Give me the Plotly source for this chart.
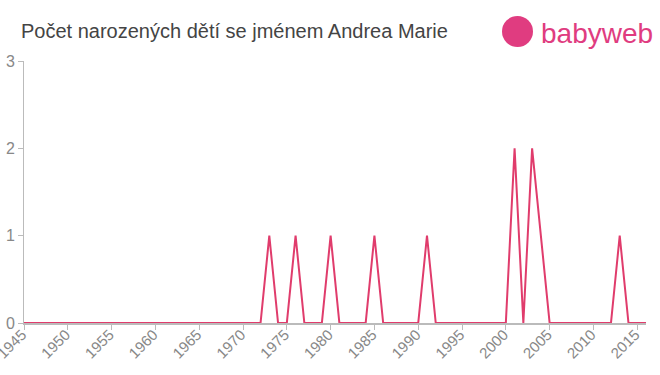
import plotly.graph_objects as go

years = list(range(1945, 2017))
nonzero = {1973: 1, 1976: 1, 1980: 1, 1985: 1, 1991: 1, 2001: 2, 2003: 2, 2004: 1, 2013: 1}
counts = [nonzero.get(y, 0) for y in years]

title_text = "Počet narozených dětí se jménem Andrea Marie"
x_ticks = list(range(1945, 2016, 5))
y_ticks = [0, 1, 2, 3]

line_color = "#e03c6c"
axis_color = "#bbbbbb"
label_color = "#888888"

L, R, T, B = 24, 646, 61, 323
W, H = R - L, B - T


def px(x):
    return (x - L) / W


def py(y):
    return (B - y) / H


fig = go.Figure()
fig.add_trace(go.Scatter(x=years, y=counts, mode="lines",
                         line=dict(color=line_color, width=2), hoverinfo="skip"))

fig.update_layout(
    width=660, height=375,
    margin=dict(l=L, r=660 - R, t=T, b=375 - B),
    paper_bgcolor="white", plot_bgcolor="white",
    showlegend=False,
    font=dict(family="Liberation Sans, Arial, sans-serif", color=label_color),
    xaxis=dict(range=[1945, 2016], tickmode="array", tickvals=x_ticks,
               ticktext=[str(v) for v in x_ticks], tickangle=-45, automargin=False,
               ticklabeloverflow="allow", ticklabelstandoff=-10, ticklabelshift=-2,
               showgrid=False, zeroline=False, showline=True, linecolor=axis_color,
               linewidth=2, ticks="outside", ticklen=5, tickcolor=axis_color,
               tickfont=dict(size=15, color=label_color)),
    yaxis=dict(range=[0, 3], tickmode="array", tickvals=y_ticks, automargin=False,
               showgrid=False, zeroline=False, showline=True, linecolor=axis_color,
               linewidth=1, ticks="outside", ticklen=5, tickcolor=axis_color,
               tickfont=dict(size=16, color=label_color)),
)

fig.add_annotation(text=title_text, xref="paper", yref="paper",
                   x=px(19), y=py(31), xanchor="left", yanchor="middle",
                   showarrow=False, font=dict(size=20, color="#444444"))

# logo
fig.add_shape(type="circle", xref="paper", yref="paper",
              x0=px(502), x1=px(533), y0=py(47), y1=py(16),
              fillcolor="#e03c80", line=dict(width=0))
fig.add_annotation(text="babyweb", xref="paper", yref="paper",
                   x=px(539), y=py(33), xanchor="left", yanchor="middle",
                   showarrow=False, font=dict(size=28, color="#e03c80"))

fig.write_html("out.html")
